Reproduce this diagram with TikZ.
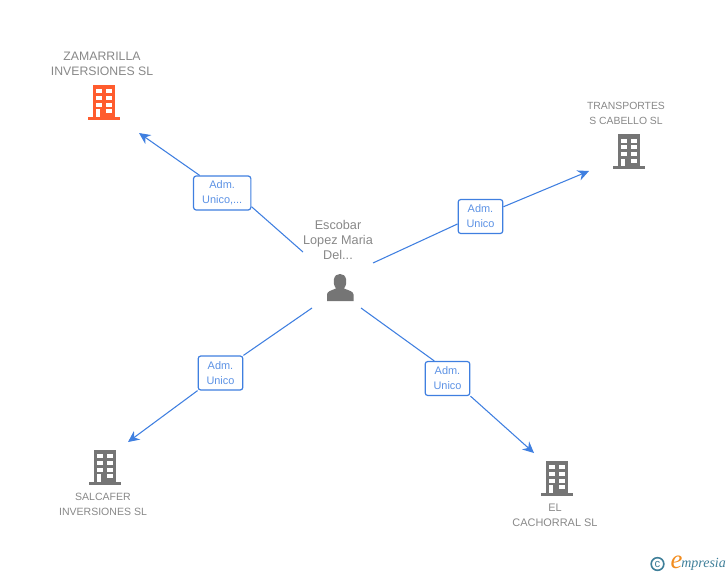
\documentclass[tikz,border=0pt]{standalone}
\usepackage{fontspec}
\setmainfont{Liberation Sans}
\newfontfamily\logofont{Liberation Serif}
\usepackage{xcolor}
\usetikzlibrary{
    arrows.meta,
    positioning
}
\definecolor{linkblue}{HTML}{3F7FE0}
\definecolor{namegray}{HTML}{888888}
\definecolor{icongray}{HTML}{757575}
\definecolor{iconorange}{HTML}{FF5C2E}
\definecolor{logoteal}{HTML}{3F7F99}
\definecolor{logoorange}{HTML}{F28C1E}
\tikzset{firm/.style={inner sep=0pt, align=center, text=namegray, font=\fontsize{#1}{11.25}\selectfont}}
\tikzset{adm/.style={inner sep=0pt, minimum width=33.5pt, minimum height=25.5pt, rounded corners=2pt, draw=linkblue, line width=0.9pt, fill=white, align=center, text=linkblue!85, font=\fontsize{8.2}{11.25}\selectfont}}
\tikzset{lnk/.style={draw=linkblue, line width=0.8pt}}
\tikzset{arw/.style={lnk, -{Stealth[length=8.5pt, width=8pt]}}}
\tikzset{bldg/.pic={
    \fill[pic actions] (-11.3, -17) rectangle (11.3, 15);
    \fill[pic actions] (-16, 15) rectangle (16, 17.5);
    \foreach \r in {-12.7, -6, 0.7}{
        \fill[white] (-8, \r) rectangle (-2, \r+4);
        \fill[white] (2, \r) rectangle (8, \r+4);
    }
    \fill[white] (-8, 7.4) rectangle (-4, 15);
    \fill[white] (2, 7.4) rectangle (8, 11.4);
}}
\begin{document}
\begin{tikzpicture}[x=0.75pt, y=-0.75pt]
    \useasboundingbox (0, 0) rectangle (728, 575);
    % names
    \node[firm=9.2] (nzam) at (102, 63.5) {ZAMARRILLA\\INVERSIONES SL};
    \node[firm=7.8] (ntra) at (626, 113) {TRANSPORTES\\S CABELLO SL};
    \node[firm=7.9] (nsal) at (103, 504) {SALCAFER\\INVERSIONES SL};
    \node[firm=8.2] (ncac) at (555, 515) {EL\\CACHORRAL SL};
    \node[firm=9.5] (nesc) at (338, 240) {Escobar\\Lopez Maria\\Del...};
    % buildings
    \pic[fill=iconorange] (izam) at (104, 102) {bldg};
    \pic[fill=icongray] (itra) at (629, 151.3) {bldg};
    \pic[fill=icongray] (isal) at (105, 467) {bldg};
    \pic[fill=icongray] (icac) at (557, 478) {bldg};
    % person
    \fill[icongray] (327, 301) -- (327, 294.5)
        .. controls (327, 291.5) and (331, 290.5) .. (336, 288.5)
        .. controls (333.5, 285) and (333.5, 282) .. (334, 279)
        .. controls (334.5, 275.5) and (337.5, 274) .. (340, 274)
        .. controls (342.5, 274) and (345.5, 275.5) .. (346, 279)
        .. controls (346.5, 282) and (346.5, 285) .. (344, 288.5)
        .. controls (349, 290.5) and (353.5, 291.5) .. (353.5, 294.5)
        -- (353.5, 301) -- cycle;
    % relation boxes
    \node[adm, minimum width=43pt] (azam) at (222.2, 193) {Adm.\\Unico,...};
    \node[adm] (atra) at (480.5, 216.5) {Adm.\\Unico};
    \node[adm] (asal) at (220.5, 373) {Adm.\\Unico};
    \node[adm] (acac) at (447.5, 378.5) {Adm.\\Unico};
    % free ends
    \coordinate (szam) at (303, 252);
    \coordinate (stra) at (373, 263);
    \coordinate (ssal) at (312, 308);
    \coordinate (scac) at (361, 308);
    \coordinate (ezam) at (139, 133);
    \coordinate (etra) at (589, 171);
    \coordinate (esal) at (128, 442);
    \coordinate (ecac) at (534, 453);
    \draw[lnk]
    (szam) -- (azam.-25)
    (stra) -- (atra.198)
    (ssal) -- (asal.north east)
    (scac) -- (acac.127);
    \draw[arw] (azam.142) -- (ezam);
    \draw[arw] (atra.23) -- (etra);
    \draw[arw] (asal.south west) -- (esal);
    \draw[arw] (acac.south east) -- (ecac);
    % logo
    \node[circle, draw=logoteal, line width=1.2pt, inner sep=0pt, minimum size=9.5pt, text=logoteal, font=\fontsize{8.5}{8.5}\selectfont] (lcopy) at (657.5, 564) {c};
    \node[inner sep=0pt, text=logoorange, font=\logofont\itshape\fontsize{20}{20}\selectfont] (le) at (676.5, 562) {e};
    \node[inner sep=0pt, anchor=west, text=logoteal, font=\logofont\itshape\fontsize{10.5}{10.5}\selectfont] (lname) at (681, 564) {mpresia};
\end{tikzpicture}
\end{document}
